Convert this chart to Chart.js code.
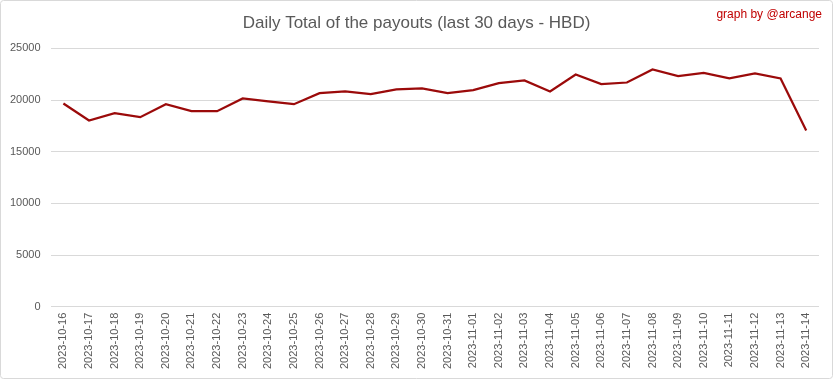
<!DOCTYPE html>
<html><head><meta charset="utf-8">
<script src="https://cdn.jsdelivr.net/npm/chart.js@4/dist/chart.umd.min.js"></script>
<style>
html,body{margin:0;padding:0;background:#fff;}
#wrap{position:relative;width:833px;height:379px;}
</style></head>
<body><div id="wrap"><canvas id="c" width="833" height="379"></canvas></div>
<script>
const categories = ["2023-10-16","2023-10-17","2023-10-18","2023-10-19","2023-10-20","2023-10-21","2023-10-22","2023-10-23","2023-10-24","2023-10-25","2023-10-26","2023-10-27","2023-10-28","2023-10-29","2023-10-30","2023-10-31","2023-11-01","2023-11-02","2023-11-03","2023-11-04","2023-11-05","2023-11-06","2023-11-07","2023-11-08","2023-11-09","2023-11-10","2023-11-11","2023-11-12","2023-11-13","2023-11-14"];
const payoutsHBD = [19670,18020,18730,18345,19600,18925,18925,20155,19865,19600,20670,20830,20575,21030,21120,20670,20960,21640,21900,20830,22480,21540,21700,22965,22320,22640,22090,22580,22090,17050];
const yTicks = [0,5000,10000,15000,20000,25000];
const titleText = "Daily Total of the payouts (last 30 days - HBD)";
const creditText = "graph by @arcange";

const frame = {
  id:'frame',
  beforeDraw(chart){
    const ctx = chart.ctx;
    ctx.save();
    ctx.fillStyle = '#fff';
    ctx.fillRect(0,0,chart.width,chart.height);
    ctx.strokeStyle = '#d9d9d9';
    ctx.lineWidth = 1;
    ctx.beginPath();
    ctx.roundRect(0.5,0.5,chart.width-1,chart.height-1,3);
    ctx.stroke();
    ctx.restore();
  },
  afterDraw(chart){
    const ctx = chart.ctx;
    ctx.save();
    ctx.fillStyle = '#c00000';
    ctx.font = '12px "Liberation Sans", Arial, sans-serif';
    ctx.textAlign = 'right';
    ctx.textBaseline = 'middle';
    ctx.fillText(creditText, 822, 15);
    ctx.restore();
  }
};

new Chart(document.getElementById('c'), {
  type:'line',
  data:{
    labels: categories,
    datasets:[{
      data: payoutsHBD,
      borderColor:'#9b0a0a',
      borderWidth:2.25,
      pointRadius:0,
      tension:0,
      fill:false
    }]
  },
  options:{
    responsive:false,
    animation:false,
    devicePixelRatio:1,
    layout:{padding:{left:0,right:0,top:0,bottom:4}},
    plugins:{
      legend:{display:false},
      tooltip:{enabled:false},
      title:{
        display:true,
        text:titleText,
        color:'#595959',
        font:{family:'"Liberation Sans", Arial, sans-serif',size:17,weight:'normal'},
        padding:{top:13,bottom:15}
      }
    },
    scales:{
      x:{
        offset:true,
        grid:{display:false,drawTicks:false},
        border:{display:false},
        ticks:{
          color:'#595959',
          autoSkip:false,
          maxRotation:90,
          minRotation:90,
          padding:6,
          font:{family:'"Liberation Sans", Arial, sans-serif',size:11}
        }
      },
      y:{
        min:0,max:25000,
        afterBuildTicks(axis){ axis.ticks = yTicks.map(v=>({value:v})); },
        grid:{color:'#d9d9d9',drawTicks:false,lineWidth:1},
        border:{display:false},
        ticks:{
          color:'#595959',
          padding:10,
          font:{family:'"Liberation Sans", Arial, sans-serif',size:11},
          callback:v=>String(v)
        }
      },
      yRight:{
        position:'right',
        min:0,max:25000,
        grid:{display:false,drawTicks:false},
        border:{display:false},
        ticks:{display:false},
        afterFit(axis){ axis.width = 14; }
      }
    }
  },
  plugins:[frame]
});
</script></body></html>
